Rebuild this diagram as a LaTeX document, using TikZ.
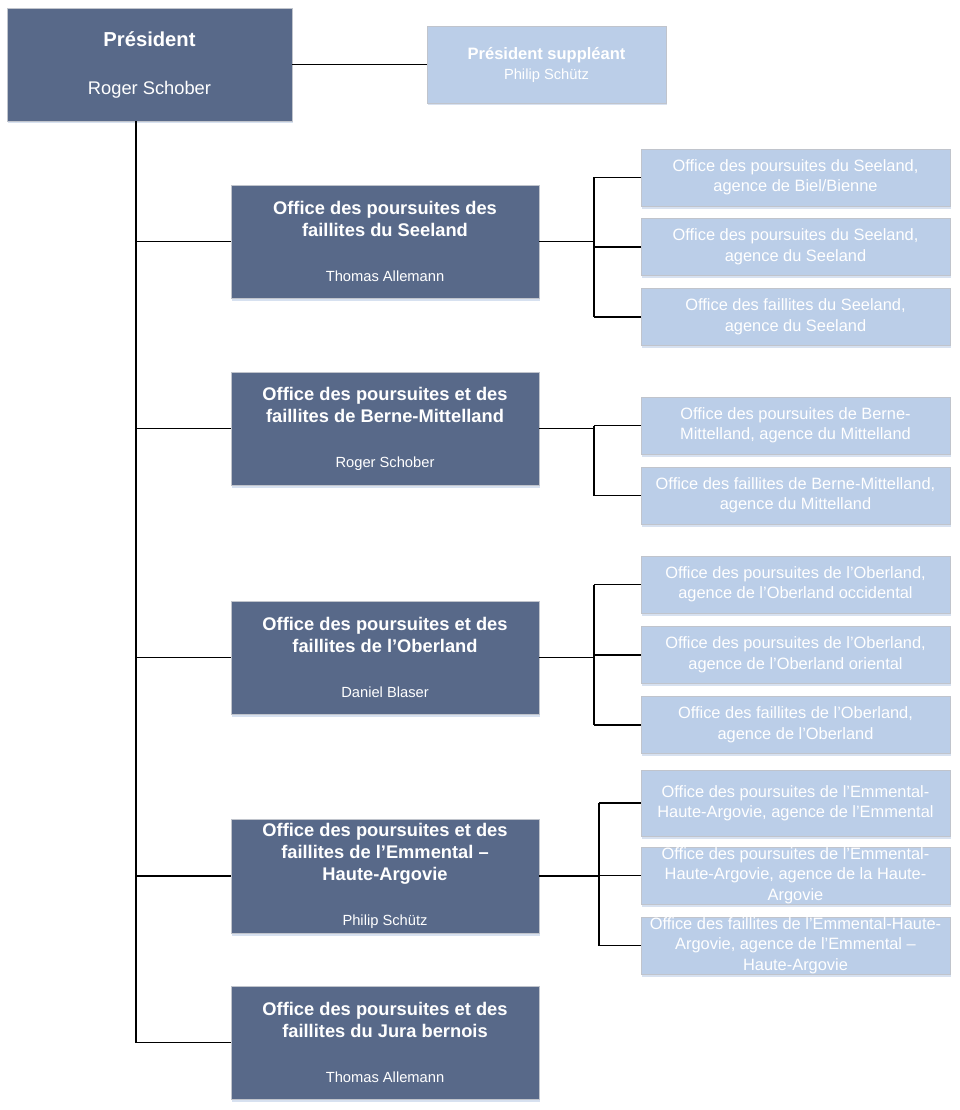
\documentclass[tikz,border=0pt]{standalone}
\usepackage{fontspec}
\setmainfont{Liberation Sans}
\usepackage{tikz}
\usetikzlibrary{shadows}
\definecolor{officecolor}{RGB}{88, 105, 137}
\definecolor{agencycolor}{RGB}{187, 206, 232}
\definecolor{edgecolor}{RGB}{192, 196, 204}
\definecolor{shadecolor}{RGB}{205, 218, 236}
\newcommand{\titlefont}{\bfseries\fontsize{18.3}{22}\selectfont}
\newcommand{\headfont}{\mdseries\fontsize{14.7}{17}\selectfont}
\tikzset{
  officebox/.style={shape=rectangle, draw=edgecolor, line width=0.8pt,
    fill=officecolor, text=white, align=center, inner sep=0pt,
    minimum width=308pt, minimum height=113pt, font=\titlefont,
    drop shadow={shadow xshift=1pt, shadow yshift=-2.5pt, fill=shadecolor, opacity=0.8}},
  agencybox/.style={shape=rectangle, draw=edgecolor, line width=0.8pt,
    fill=agencycolor, text=white, align=center, inner sep=0pt,
    minimum width=309pt, minimum height=57pt,
    font=\fontsize{16.4}{20.5}\selectfont,
    drop shadow={shadow xshift=1pt, shadow yshift=-2.5pt, fill=shadecolor, opacity=0.8}},
  link/.style={draw=black, line width=1.3pt}
}

\begin{document}
\begin{tikzpicture}[x=1pt, y=-1pt]
    \useasboundingbox (0,0) rectangle (959,1110);

    % president and deputy
    \node[officebox, minimum width=285pt, font=\bfseries\fontsize{20.2}{24}\selectfont]
        (president) at (149.5,64.5)
        {Président\\[24pt]{\mdseries\fontsize{18.3}{22}\selectfont Roger Schober}};
    \node[agencybox, minimum width=239pt, minimum height=77pt,
          font=\bfseries\fontsize{16.5}{20}\selectfont]
        (deputy) at (546.5,64.5)
        {Président suppléant\\{\headfont Philip Schütz}};

    % regional offices
    \node[officebox] (seeland) at (385,241.5)
        {Office des poursuites des\\faillites du Seeland\\[23pt]{\headfont Thomas Allemann}};
    \node[officebox] (berne) at (385,428.5)
        {Office des poursuites et des\\faillites de Berne-Mittelland\\[23pt]{\headfont Roger Schober}};
    \node[officebox] (oberland) at (385,657.5)
        {Office des poursuites et des\\faillites de l’Oberland\\[23pt]{\headfont Daniel Blaser}};
    \node[officebox, minimum height=114pt] (emmental) at (385,876)
        {Office des poursuites et des\\faillites de l’Emmental –\\Haute-Argovie\\[23pt]{\headfont Philip Schütz}};
    \node[officebox] (jura) at (385,1042.5)
        {Office des poursuites et des\\faillites du Jura bernois\\[23pt]{\headfont Thomas Allemann}};

    % agencies
    \node[agencybox] (seelandA) at (795.5,177.5)
        {Office des poursuites du Seeland,\\agence de Biel/Bienne};
    \node[agencybox] (seelandB) at (795.5,247)
        {Office des poursuites du Seeland,\\agence du Seeland};
    \node[agencybox] (seelandC) at (795.5,317)
        {Office des faillites du Seeland,\\agence du Seeland};

    \node[agencybox] (berneA) at (795.5,425.5)
        {Office des poursuites de Berne-\\Mittelland, agence du Mittelland};
    \node[agencybox] (berneB) at (795.5,495.5)
        {Office des faillites de Berne-Mittelland,\\agence du Mittelland};

    \node[agencybox] (oberlandA) at (795.5,584.5)
        {Office des poursuites de l’Oberland,\\agence de l’Oberland occidental};
    \node[agencybox] (oberlandB) at (795.5,655)
        {Office des poursuites de l’Oberland,\\agence de l’Oberland oriental};
    \node[agencybox] (oberlandC) at (795.5,725)
        {Office des faillites de l’Oberland,\\agence de l’Oberland};

    \node[agencybox, minimum height=66pt] (emmentalA) at (795.5,803)
        {Office des poursuites de l’Emmental-\\Haute-Argovie, agence de l’Emmental};
    \node[agencybox] (emmentalB) at (795.5,875.5)
        {Office des poursuites de l’Emmental-\\Haute-Argovie, agence de la Haute-\\Argovie};
    \node[agencybox] (emmentalC) at (795.5,945.5)
        {Office des faillites de l’Emmental-Haute-\\Argovie, agence de l’Emmental –\\Haute-Argovie};

    % connectors
    \coordinate (trunk) at (136,0);
    \draw[link] (president.east) -- (deputy.west);
    \draw[link] (trunk |- president.south) |- (jura.west);
    \foreach \office in {seeland,berne,oberland,emmental}
        \draw[link] (trunk |- \office.west) -- (\office.west);

    \coordinate (seelandBus) at (594,0);
    \coordinate (berneBus) at (594,0);
    \coordinate (oberlandBus) at (594,0);
    \coordinate (emmentalBus) at (599,0);

    \draw[link] (seeland.east) -- (seelandBus |- seeland.east);
    \draw[link] (seelandBus |- seelandA.west) -- (seelandBus |- seelandC.west);
    \foreach \agency in {seelandA,seelandB,seelandC}
        \draw[link] (seelandBus |- \agency.west) -- (\agency.west);

    \draw[link] (berne.east) -- (berneBus |- berne.east);
    \draw[link] (berneBus |- berneA.west) -- (berneBus |- berneB.west);
    \foreach \agency in {berneA,berneB}
        \draw[link] (berneBus |- \agency.west) -- (\agency.west);

    \draw[link] (oberland.east) -- (oberlandBus |- oberland.east);
    \draw[link] (oberlandBus |- oberlandA.west) -- (oberlandBus |- oberlandC.west);
    \foreach \agency in {oberlandA,oberlandB,oberlandC}
        \draw[link] (oberlandBus |- \agency.west) -- (\agency.west);

    \draw[link] (emmental.east) -- (emmentalBus |- emmental.east);
    \draw[link] (emmentalBus |- emmentalA.west) -- (emmentalBus |- emmentalC.west);
    \foreach \agency in {emmentalA,emmentalB,emmentalC}
        \draw[link] (emmentalBus |- \agency.west) -- (\agency.west);
\end{tikzpicture}
\end{document}
